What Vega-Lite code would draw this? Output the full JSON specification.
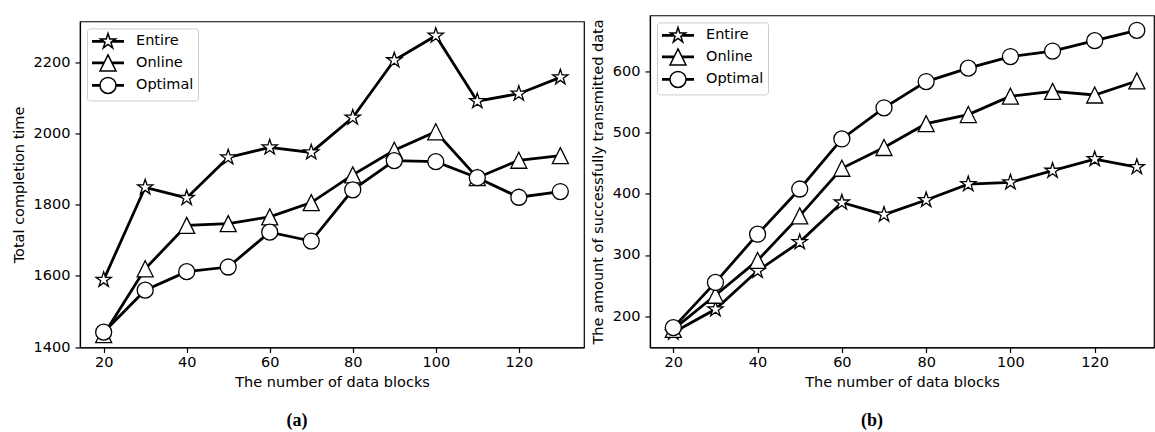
{
  "$schema": "https://vega.github.io/schema/vega-lite/v6.json",
  "padding": {"left": 10, "top": 14, "right": 0, "bottom": 0},
  "spacing": 4,
  "center": true,
  "resolve": {"scale": {"shape": "independent"}, "legend": {"shape": "independent"}},
  "config": {
    "font": "DejaVu Sans",
    "view": {"stroke": "black", "strokeWidth": 1.2},
    "axis": {"domainColor": "black", "domainWidth": 1.2, "tickColor": "black", "tickWidth": 1.2, "tickSize": 5, "labelFontSize": 14.5, "labelColor": "black", "labelFont": "DejaVu Sans", "titleFont": "DejaVu Sans", "titleFontSize": 14.5, "titleFontWeight": "normal", "titleColor": "black", "grid": false, "labelPadding": 3.5, "titlePadding": 6},
    "axisY": {"labelPadding": 5, "titlePadding": 7, "format": "d"},
    "legend": {"orient": "top-left", "offset": 7, "padding": 4, "strokeColor": "#cccccc", "fillColor": "rgba(255,255,255,0.8)", "cornerRadius": 3, "labelFontSize": 14.5, "labelColor": "black", "labelFont": "DejaVu Sans", "symbolSize": 256, "labelOffset": 27, "rowPadding": 0.5}
  },
  "datasets": {
    "a": [
      {"n": 20, "method": "Entire", "value": 1589}, {"n": 30, "method": "Entire", "value": 1849}, {"n": 40, "method": "Entire", "value": 1819}, {"n": 50, "method": "Entire", "value": 1933}, {"n": 60, "method": "Entire", "value": 1961}, {"n": 70, "method": "Entire", "value": 1947}, {"n": 80, "method": "Entire", "value": 2045}, {"n": 90, "method": "Entire", "value": 2206}, {"n": 100, "method": "Entire", "value": 2275}, {"n": 110, "method": "Entire", "value": 2091}, {"n": 120, "method": "Entire", "value": 2112}, {"n": 130, "method": "Entire", "value": 2158},
      {"n": 20, "method": "Online", "value": 1435}, {"n": 30, "method": "Online", "value": 1620}, {"n": 40, "method": "Online", "value": 1742}, {"n": 50, "method": "Online", "value": 1747}, {"n": 60, "method": "Online", "value": 1766}, {"n": 70, "method": "Online", "value": 1806}, {"n": 80, "method": "Online", "value": 1884}, {"n": 90, "method": "Online", "value": 1953}, {"n": 100, "method": "Online", "value": 2005}, {"n": 110, "method": "Online", "value": 1876}, {"n": 120, "method": "Online", "value": 1925}, {"n": 130, "method": "Online", "value": 1938},
      {"n": 20, "method": "Optimal", "value": 1442}, {"n": 30, "method": "Optimal", "value": 1560}, {"n": 40, "method": "Optimal", "value": 1612}, {"n": 50, "method": "Optimal", "value": 1625}, {"n": 60, "method": "Optimal", "value": 1723}, {"n": 70, "method": "Optimal", "value": 1698}, {"n": 80, "method": "Optimal", "value": 1842}, {"n": 90, "method": "Optimal", "value": 1924}, {"n": 100, "method": "Optimal", "value": 1921}, {"n": 110, "method": "Optimal", "value": 1876}, {"n": 120, "method": "Optimal", "value": 1821}, {"n": 130, "method": "Optimal", "value": 1837}
    ],
    "b": [
      {"n": 20, "method": "Entire", "value": 173}, {"n": 30, "method": "Entire", "value": 211}, {"n": 40, "method": "Entire", "value": 274}, {"n": 50, "method": "Entire", "value": 321}, {"n": 60, "method": "Entire", "value": 386}, {"n": 70, "method": "Entire", "value": 366}, {"n": 80, "method": "Entire", "value": 390}, {"n": 90, "method": "Entire", "value": 416}, {"n": 100, "method": "Entire", "value": 419}, {"n": 110, "method": "Entire", "value": 438}, {"n": 120, "method": "Entire", "value": 457}, {"n": 130, "method": "Entire", "value": 444},
      {"n": 20, "method": "Online", "value": 178}, {"n": 30, "method": "Online", "value": 234}, {"n": 40, "method": "Online", "value": 291}, {"n": 50, "method": "Online", "value": 364}, {"n": 60, "method": "Online", "value": 442}, {"n": 70, "method": "Online", "value": 476}, {"n": 80, "method": "Online", "value": 515}, {"n": 90, "method": "Online", "value": 530}, {"n": 100, "method": "Online", "value": 560}, {"n": 110, "method": "Online", "value": 568}, {"n": 120, "method": "Online", "value": 562}, {"n": 130, "method": "Online", "value": 585},
      {"n": 20, "method": "Optimal", "value": 181}, {"n": 30, "method": "Optimal", "value": 255}, {"n": 40, "method": "Optimal", "value": 334}, {"n": 50, "method": "Optimal", "value": 408}, {"n": 60, "method": "Optimal", "value": 490}, {"n": 70, "method": "Optimal", "value": 541}, {"n": 80, "method": "Optimal", "value": 584}, {"n": 90, "method": "Optimal", "value": 606}, {"n": 100, "method": "Optimal", "value": 625}, {"n": 110, "method": "Optimal", "value": 634}, {"n": 120, "method": "Optimal", "value": 651}, {"n": 130, "method": "Optimal", "value": 668}
    ]
  },
  "hconcat": [
    {
      "width": 504,
      "height": 326,
      "data": {"name": "a"},
      "title": {"text": "(a)", "orient": "bottom", "font": "Liberation Serif", "fontWeight": "bold", "fontSize": 18, "frame": "group", "anchor": "middle", "dx": -35, "offset": 23, "color": "black"},
      "encoding": {
        "x": {"field": "n", "type": "quantitative", "scale": {"domain": [14.3, 135.7], "nice": false, "zero": false}, "axis": {"values": [20, 40, 60, 80, 100, 120], "title": "The number of data blocks"}},
        "y": {"field": "value", "type": "quantitative", "scale": {"domain": [1399, 2315], "nice": false, "zero": false}, "axis": {"values": [1400, 1600, 1800, 2000, 2200], "title": "Total completion time"}}
      },
      "layer": [
        {
          "mark": {"type": "line", "color": "black", "strokeWidth": 2.8},
          "encoding": {"detail": {"field": "method"}}
        },
        {
          "mark": {"type": "point", "filled": true, "fill": "white", "stroke": "black", "strokeWidth": 1.3, "opacity": 1, "size": 256},
          "encoding": {
            "shape": {
              "field": "method", "type": "nominal", "legend": null,
              "scale": {"domain": ["Entire", "Online", "Optimal"], "range": ["M0,-1L0.2245,-0.309L0.9511,-0.309L0.3633,0.118L0.5878,0.809L0,0.382L-0.5878,0.809L-0.3633,0.118L-0.9511,-0.309L-0.2245,-0.309Z", "M0,-1L1,1L-1,1Z", "M1,0A1,1,0,1,1,-1,0A1,1,0,1,1,1,0Z"]}
            }
          }
        },
        {
          "transform": [{"filter": "false"}],
          "mark": {"type": "point", "filled": true, "fill": "white", "stroke": "black", "strokeWidth": 1.5, "opacity": 1, "size": 256},
          "encoding": {
            "shape": {
              "field": "method", "type": "nominal",
              "legend": {"title": null, "encode": {"symbols": {"fill": {"value": "white"}, "stroke": {"value": "black"}, "strokeWidth": {"value": 1.5}, "opacity": {"value": 1}}}},
              "scale": {"domain": ["Entire", "Online", "Optimal"], "range": ["M-1,-0.08L0.48,-0.08M-1,0.08L0.48,0.08M1.52,-0.08L3,-0.08M1.52,0.08L3,0.08M1,-1L1.2245,-0.309L1.9511,-0.309L1.3633,0.118L1.5878,0.809L1,0.382L0.4122,0.809L0.6367,0.118L0.0489,-0.309L0.7755,-0.309Z", "M-1,-0.08L0.5,-0.08M-1,0.08L0.5,0.08M1.5,-0.08L3,-0.08M1.5,0.08L3,0.08M1,-1L2,1L0,1Z", "M-1,-0.08L0,-0.08M-1,0.08L0,0.08M2,-0.08L3,-0.08M2,0.08L3,0.08M2,0A1,1,0,1,1,0,0A1,1,0,1,1,2,0Z"]}
            }
          }
        }
      ],
      "resolve": {"scale": {"shape": "independent"}}
    },
    {
      "width": 504,
      "height": 332,
      "data": {"name": "b"},
      "title": {"text": "(b)", "subtitle": " ", "subtitleFontSize": 6, "subtitlePadding": 0, "orient": "bottom", "font": "Liberation Serif", "fontWeight": "bold", "fontSize": 18, "frame": "group", "anchor": "middle", "dx": -30, "offset": 23, "color": "black"},
      "encoding": {
        "x": {"field": "n", "type": "quantitative", "scale": {"domain": [14.47, 134.07], "nice": false, "zero": false}, "axis": {"values": [20, 40, 60, 80, 100, 120], "title": "The number of data blocks"}},
        "y": {"field": "value", "type": "quantitative", "scale": {"domain": [148.5, 692.3], "nice": false, "zero": false}, "axis": {"values": [200, 300, 400, 500, 600], "title": "The amount of successfully transmitted data"}}
      },
      "layer": [
        {
          "mark": {"type": "line", "color": "black", "strokeWidth": 2.8},
          "encoding": {"detail": {"field": "method"}}
        },
        {
          "mark": {"type": "point", "filled": true, "fill": "white", "stroke": "black", "strokeWidth": 1.3, "opacity": 1, "size": 256},
          "encoding": {
            "shape": {
              "field": "method", "type": "nominal", "legend": null,
              "scale": {"domain": ["Entire", "Online", "Optimal"], "range": ["M0,-1L0.2245,-0.309L0.9511,-0.309L0.3633,0.118L0.5878,0.809L0,0.382L-0.5878,0.809L-0.3633,0.118L-0.9511,-0.309L-0.2245,-0.309Z", "M0,-1L1,1L-1,1Z", "M1,0A1,1,0,1,1,-1,0A1,1,0,1,1,1,0Z"]}
            }
          }
        },
        {
          "transform": [{"filter": "false"}],
          "mark": {"type": "point", "filled": true, "fill": "white", "stroke": "black", "strokeWidth": 1.5, "opacity": 1, "size": 256},
          "encoding": {
            "shape": {
              "field": "method", "type": "nominal",
              "legend": {"title": null, "encode": {"symbols": {"fill": {"value": "white"}, "stroke": {"value": "black"}, "strokeWidth": {"value": 1.5}, "opacity": {"value": 1}}}},
              "scale": {"domain": ["Entire", "Online", "Optimal"], "range": ["M-1,-0.08L0.48,-0.08M-1,0.08L0.48,0.08M1.52,-0.08L3,-0.08M1.52,0.08L3,0.08M1,-1L1.2245,-0.309L1.9511,-0.309L1.3633,0.118L1.5878,0.809L1,0.382L0.4122,0.809L0.6367,0.118L0.0489,-0.309L0.7755,-0.309Z", "M-1,-0.08L0.5,-0.08M-1,0.08L0.5,0.08M1.5,-0.08L3,-0.08M1.5,0.08L3,0.08M1,-1L2,1L0,1Z", "M-1,-0.08L0,-0.08M-1,0.08L0,0.08M2,-0.08L3,-0.08M2,0.08L3,0.08M2,0A1,1,0,1,1,0,0A1,1,0,1,1,2,0Z"]}
            }
          }
        }
      ],
      "resolve": {"scale": {"shape": "independent"}}
    }
  ]
}
